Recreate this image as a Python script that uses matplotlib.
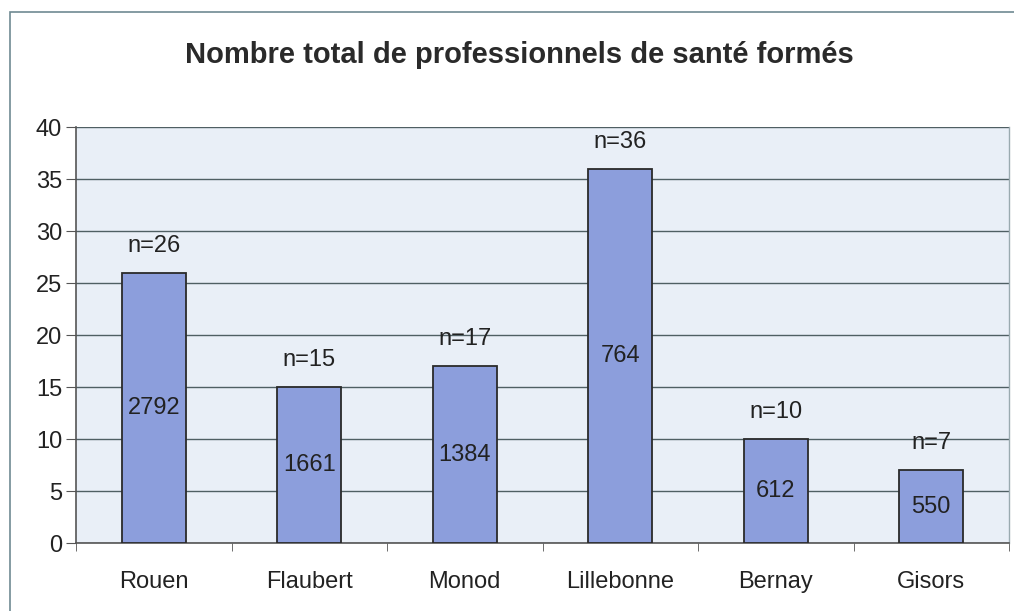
import matplotlib.pyplot as plt
from matplotlib.patches import Rectangle
import numpy as np

plt.rcParams["font.family"] = ["Liberation Sans", "DejaVu Sans"]

# Données
sites = ["Rouen", "Flaubert", "Monod", "Lillebonne", "Bernay", "Gisors"]
effectifs = [26, 15, 17, 36, 10, 7]
formes = [2792, 1661, 1384, 764, 612, 550]

fig = plt.figure(figsize=(10.14, 6.11), dpi=100)
W, H = 1014, 611

# Cadre de la figure (style Excel)
fig.patches.append(
    Rectangle((10 / W, -0.1), 1.1, 1.1 - 12 / H,
              transform=fig.transFigure, fill=False,
              edgecolor="#6f8a92", linewidth=1.2)
)

ax = fig.add_axes([76 / W, 1 - 543 / H, (1009 - 76) / W, (543 - 127) / H])
ax.set_facecolor("#e9eff7")

x = np.arange(len(sites))
bars = ax.bar(x, effectifs, width=0.41, color="#8c9edc",
              edgecolor="#2a2a2a", linewidth=1.3, zorder=3)

for i, bar in enumerate(bars):
    h = bar.get_height()
    ax.text(bar.get_x() + bar.get_width() / 2, h + 2.6, f"n={effectifs[i]}",
            ha="center", va="center", fontsize=17, color="#222222", zorder=4)
    ax.text(bar.get_x() + bar.get_width() / 2, h / 2, f"{formes[i]}",
            ha="center", va="center", fontsize=17, color="#222222", zorder=4)

ax.set_xlim(-0.5, len(sites) - 0.5)
ax.set_ylim(0, 40)
ax.set_yticks(range(0, 41, 5))
ax.yaxis.grid(True, color="#4f5f63", linewidth=1.0, zorder=1)
ax.set_axisbelow(True)

ax.set_xticks(x)
ax.set_xticklabels(sites, fontsize=17, color="#222222")
ax.set_xticks(np.arange(-0.5, len(sites), 1), minor=True)
ax.tick_params(axis="x", which="major", length=0, pad=20)
ax.tick_params(axis="x", which="minor", length=6, direction="out",
               color="#555555")
ax.tick_params(axis="y", length=7, direction="out", color="#555555",
               labelsize=17, labelcolor="#222222", pad=3)

for side in ["left", "bottom"]:
    ax.spines[side].set_color("#555555")
    ax.spines[side].set_linewidth(1.2)
ax.spines["top"].set_visible(False)
ax.spines["right"].set_color("#9aaab0")
ax.spines["right"].set_linewidth(1.0)

fig.text(519 / W, 1 - 55 / H, "Nombre total de professionnels de santé formés",
         ha="center", va="center", fontsize=21, fontweight="bold",
         color="#2a2a2a")

fig.savefig("out.png", dpi=100)
